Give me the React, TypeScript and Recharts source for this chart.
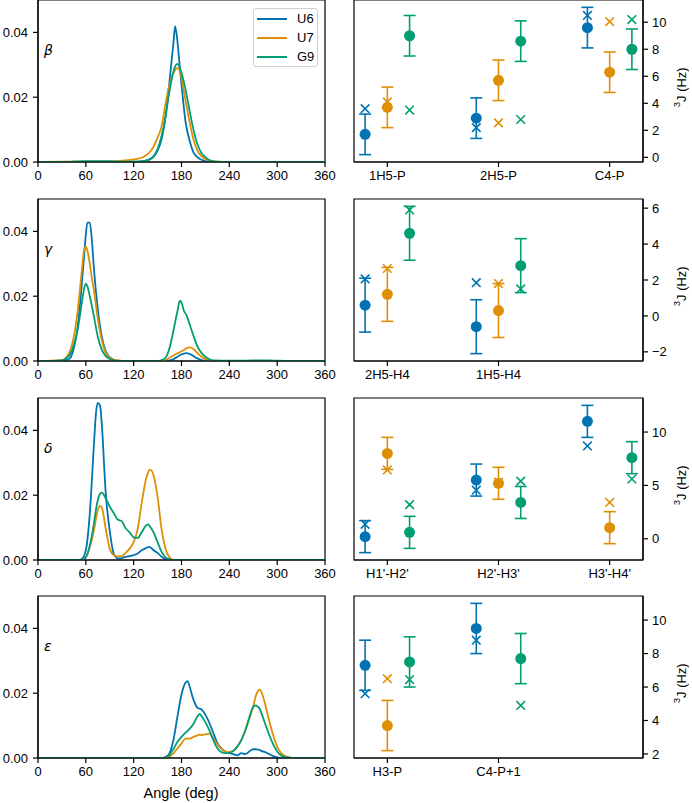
import React from 'react';
import {
  LineChart,
  Line,
  XAxis,
  YAxis,
  Legend,
  ComposedChart,
  Scatter,
  ErrorBar,
  ReferenceArea,
} from 'recharts';

// ---- torsion angle densities (left column) ----
const betaAngles = [0, 30, 60, 80, 100, 120, 130, 135, 140, 145, 150, 155, 160, 165, 170, 172, 175, 178, 180, 185, 190, 195, 200, 205, 210, 215, 220, 240, 300, 360];
const betaU6 = [0, 0, 0.0002, 0.0002, 0.0001, 0.0001, 0.0002, 0.0004, 0.0008, 0.0016, 0.0035, 0.007, 0.014, 0.025, 0.037, 0.0419, 0.037, 0.029, 0.024, 0.0125, 0.0068, 0.003, 0.0015, 0.0007, 0.0003, 0.0001, 0, 0, 0, 0];
const betaU7 = [0, 0.0001, 0.0001, 0.0001, 0.0003, 0.0008, 0.0013, 0.002, 0.003, 0.0048, 0.0075, 0.011, 0.018, 0.024, 0.0275, 0.0285, 0.029, 0.028, 0.026, 0.019, 0.0125, 0.007, 0.0035, 0.0018, 0.0009, 0.0004, 0.0002, 0, 0, 0];
const betaG9 = [0, 0, 0.0002, 0.0002, 0.0001, 0.0001, 0.0002, 0.0004, 0.0008, 0.0018, 0.004, 0.008, 0.014, 0.022, 0.028, 0.0295, 0.0303, 0.029, 0.0275, 0.0225, 0.016, 0.01, 0.0055, 0.0028, 0.0015, 0.0006, 0.0002, 0, 0, 0];

const gammaAngles = [0, 30, 35, 40, 45, 50, 55, 58, 60, 62, 65, 68, 70, 75, 80, 85, 90, 95, 100, 110, 150, 155, 160, 165, 170, 175, 178, 180, 183, 186, 190, 195, 200, 205, 210, 215, 220, 240, 260, 280, 290, 300, 320, 360];
const gammaU6 = [0, 0, 0.0002, 0.0008, 0.004, 0.011, 0.024, 0.033, 0.039, 0.0427, 0.0427, 0.036, 0.029, 0.016, 0.0075, 0.003, 0.0012, 0.0004, 0.0001, 0, 0, 0, 0, 0.0002, 0.0006, 0.0013, 0.0018, 0.002, 0.0023, 0.0024, 0.0022, 0.0015, 0.0008, 0.0003, 0.0001, 0, 0, 0, 0, 0, 0, 0, 0, 0];
const gammaU7 = [0, 0.0003, 0.001, 0.003, 0.0075, 0.016, 0.028, 0.0345, 0.0353, 0.034, 0.03, 0.025, 0.022, 0.013, 0.0065, 0.0025, 0.001, 0.0004, 0.0002, 0, 0, 0, 0.0003, 0.001, 0.0017, 0.0024, 0.0027, 0.003, 0.0034, 0.0039, 0.0042, 0.0037, 0.0025, 0.0013, 0.0006, 0.0002, 0, 0, 0, 0, 0, 0, 0, 0];
const gammaG9 = [0, 0.0002, 0.0008, 0.002, 0.005, 0.01, 0.018, 0.0225, 0.0239, 0.023, 0.02, 0.0165, 0.014, 0.0075, 0.0035, 0.0015, 0.0006, 0.0002, 0, 0, 0, 0.0003, 0.001, 0.004, 0.0095, 0.0155, 0.0186, 0.018, 0.0155, 0.0143, 0.0115, 0.0078, 0.0045, 0.0025, 0.0013, 0.0005, 0.0002, 0.0001, 0.0001, 0.0002, 0.0002, 0.0001, 0, 0];

const deltaAngles = [0, 50, 55, 60, 65, 70, 73, 75, 78, 80, 85, 90, 95, 100, 105, 110, 115, 120, 125, 130, 135, 138, 140, 142, 145, 150, 155, 160, 165, 170, 180, 240, 300, 360];
const deltaU6 = [0, 0, 0.0003, 0.003, 0.0144, 0.035, 0.046, 0.0485, 0.0475, 0.042, 0.0205, 0.009, 0.002, 0.0005, 0.0006, 0.001, 0.0012, 0.0015, 0.002, 0.003, 0.0036, 0.004, 0.004, 0.0037, 0.003, 0.0022, 0.001, 0.0003, 0, 0, 0, 0, 0, 0];
const deltaU7 = [0, 0, 0, 0.0008, 0.004, 0.009, 0.013, 0.0155, 0.0167, 0.0163, 0.0095, 0.0035, 0.0015, 0.0011, 0.0012, 0.0022, 0.0035, 0.0055, 0.0095, 0.0175, 0.0245, 0.027, 0.0278, 0.0277, 0.026, 0.0195, 0.0095, 0.0035, 0.0008, 0, 0, 0, 0, 0];
const deltaG9 = [0, 0, 0, 0.0008, 0.0045, 0.011, 0.016, 0.0185, 0.0205, 0.0208, 0.019, 0.0165, 0.0145, 0.0125, 0.012, 0.0098, 0.0085, 0.007, 0.0068, 0.0085, 0.0105, 0.011, 0.0105, 0.0098, 0.0085, 0.0055, 0.0025, 0.0008, 0.0002, 0, 0, 0, 0, 0];

const epsAngles = [0, 120, 155, 160, 165, 170, 175, 180, 185, 188, 190, 195, 200, 203, 205, 210, 215, 220, 225, 230, 235, 240, 245, 250, 255, 260, 265, 270, 273, 275, 278, 280, 285, 290, 295, 300, 305, 310, 315, 320, 330, 360];
const epsU6 = [0, 0, 0, 0.0003, 0.0015, 0.0057, 0.0129, 0.0196, 0.0232, 0.0237, 0.0222, 0.018, 0.0155, 0.0152, 0.015, 0.0134, 0.0108, 0.0077, 0.0046, 0.003, 0.002, 0.0015, 0.0012, 0.0008, 0.0015, 0.0012, 0.002, 0.0027, 0.0027, 0.0026, 0.0025, 0.0022, 0.0018, 0.0012, 0.0006, 0.0002, 0, 0, 0, 0, 0, 0];
const epsU7 = [0, 0, 0, 0.0001, 0.0005, 0.0015, 0.003, 0.0045, 0.006, 0.006, 0.006, 0.0065, 0.007, 0.0072, 0.0071, 0.0073, 0.0075, 0.006, 0.0042, 0.0028, 0.002, 0.0018, 0.0022, 0.0035, 0.0055, 0.0085, 0.012, 0.016, 0.019, 0.0203, 0.0211, 0.0205, 0.0165, 0.0115, 0.007, 0.0035, 0.0015, 0.0006, 0.0002, 0, 0, 0];
const epsG9 = [0, 0, 0, 0.0002, 0.001, 0.0028, 0.005, 0.0065, 0.0078, 0.0085, 0.009, 0.0105, 0.0128, 0.0136, 0.013, 0.011, 0.0085, 0.0055, 0.003, 0.0018, 0.0015, 0.0016, 0.0022, 0.0035, 0.0055, 0.0085, 0.0125, 0.0158, 0.0162, 0.016, 0.0152, 0.014, 0.0105, 0.0072, 0.0042, 0.002, 0.0008, 0.0003, 0.0001, 0, 0, 0];

const angleTicks = [0, 60, 120, 180, 240, 300, 360];
const densityTicks = [0, 0.02, 0.04];

// ---- 3J couplings (right column): measured mean, error, and computed value ----
const betaJCats = ['1H5-P', '2H5-P', 'C4-P'];
const betaJU6 = [1.7, 2.9, 9.6];
const betaJU7 = [3.7, 5.7, 6.3];
const betaJG9 = [9.0, 8.6, 8.0];
const betaJErr = [1.5, 1.5, 1.5];
const betaCalcU6 = [3.6, 2.2, 10.5];
const betaCalcU7 = [4.1, 2.55, 10.05];
const betaCalcG9 = [3.5, 2.8, 10.2];

const gammaJCats = ['2H5-H4', '1H5-H4'];
const gammaJU6 = [0.6, -0.6];
const gammaJU7 = [1.2, 0.3];
const gammaJG9 = [4.6, 2.8];
const gammaJErr = [1.5, 1.5];
const gammaCalcU6 = [2.06, 1.85];
const gammaCalcU7 = [2.64, 1.8];
const gammaCalcG9 = [5.9, 1.5];

const deltaJCats = ["H1'-H2'", "H2'-H3'", "H3'-H4'"];
const deltaJU6 = [0.2, 5.5, 11.0];
const deltaJU7 = [8.0, 5.2, 1.04];
const deltaJG9 = [0.6, 3.4, 7.6];
const deltaJErr = [1.5, 1.5, 1.5];
const deltaCalcU6 = [1.35, 4.55, 8.7];
const deltaCalcU7 = [6.45, 5.3, 3.4];
const deltaCalcG9 = [3.2, 5.4, 5.6];

const epsJCats = ['H3-P', 'C4-P+1'];
const epsJU6 = [7.3, 9.5];
const epsJU7 = [3.7, null];
const epsJG9 = [7.5, 7.7];
const epsJErr = [1.5, 1.5];
const epsCalcU6 = [5.6, 8.8];
const epsCalcU7 = [6.5, null];
const epsCalcG9 = [6.45, 4.9];

const SERIES = ['U6', 'U7', 'G9'];
const COLORS: Record<string, string> = { U6: '#0173B2', U7: '#DE8F05', G9: '#029E73' };
const OFFSETS = [-0.2, 0, 0.2];
const FONT = '"Liberation Sans", Arial, Helvetica, sans-serif';
const AXIS = { stroke: '#000', strokeWidth: 1.2 };
const TICK = { fontSize: 13, fill: '#000', fontFamily: FONT };

const ROW_TOPS = [0.3, 199.3, 398.3, 596];
const PLOT_H = 162;

function AnglePanel({ top, angles, u6, u7, g9, legend }: any) {
  const data = angles.map((a: number, i: number) => ({ angle: a, U6: u6[i], U7: u7[i], G9: g9[i] }));
  return (
    <div style={{ position: 'absolute', left: 0, top: top - 10 }}>
      <LineChart width={340} height={10 + PLOT_H + 33} data={data} margin={{ top: 10, right: 15, bottom: 0, left: 0 }}>
        <XAxis
          xAxisId="b"
          dataKey="angle"
          type="number"
          domain={[0, 360]}
          ticks={angleTicks}
          interval={0}
          allowDataOverflow
          tick={TICK}
          tickSize={5}
          tickMargin={4}
          axisLine={AXIS}
          tickLine={AXIS}
          height={33}
        />
        <YAxis
          yAxisId="l"
          type="number"
          domain={[0, 0.05]}
          ticks={densityTicks}
          interval={0}
          allowDataOverflow
          tickFormatter={(v: number) => v.toFixed(2)}
          tick={TICK}
          tickSize={5}
          tickMargin={5}
          axisLine={AXIS}
          tickLine={AXIS}
          width={38}
        />
        {SERIES.map((s) => (
          <Line
            key={s}
            xAxisId="b"
            yAxisId="l"
            type="monotone"
            dataKey={s}
            name={s}
            stroke={COLORS[s]}
            strokeWidth={1.8}
            dot={false}
            isAnimationActive={false}
          />
        ))}
        <ReferenceArea xAxisId="b" yAxisId="l" x1={0} x2={360} y1={0} y2={0.05} fill="none" stroke="#000" strokeWidth={1.2} ifOverflow="visible" />
        {legend && (
          <Legend
            layout="vertical"
            align="center"
            verticalAlign="middle"
            wrapperStyle={{ left: 253, top: 18, width: 65 }}
            content={() => (
              <div
                style={{
                  border: '1px solid #d0d0d0',
                  borderRadius: 3,
                  background: '#fff',
                  width: 65,
                  height: 59,
                  boxSizing: 'border-box',
                  paddingLeft: 3,
                  fontFamily: FONT,
                  fontSize: 13,
                }}
              >
                {SERIES.map((s) => (
                  <div key={s} style={{ display: 'flex', alignItems: 'center', height: 19 }}>
                    <div style={{ width: 30, height: 2, flex: '0 0 30px', background: COLORS[s], marginRight: 10 }} />
                    <span>{s}</span>
                  </div>
                ))}
              </div>
            )}
          />
        )}
      </LineChart>
    </div>
  );
}

function CirclePt(props: any) {
  return <circle cx={props.cx} cy={props.cy} r={5.5} fill={props.color} />;
}

function CrossPt(props: any) {
  const { cx, cy, color } = props;
  const h = 4.3;
  return (
    <path
      d={`M${cx - h},${cy - h}L${cx + h},${cy + h}M${cx - h},${cy + h}L${cx + h},${cy - h}`}
      stroke={color}
      strokeWidth={1.6}
      fill="none"
    />
  );
}

function fmtJ(v: number) {
  return v < 0 ? '\u2212' + Math.abs(v) : String(v);
}

function JPanel({ top, cats, means, err, calcs, yDomain, yTicks }: any) {
  const catTicks = cats.map((_: string, i: number) => i);
  return (
    <div style={{ position: 'absolute', left: 340, top: top - 10 }}>
      <ComposedChart width={352} height={10 + PLOT_H + 33} margin={{ top: 10, right: 14, bottom: 0, left: 14 }}>
        <XAxis
          xAxisId="b"
          dataKey="x"
          type="number"
          domain={[-0.3, 2.3]}
          ticks={catTicks}
          interval={0}
          allowDataOverflow
          tickFormatter={(v: number) => cats[v] ?? ''}
          tick={TICK}
          tickSize={5}
          tickMargin={4}
          axisLine={AXIS}
          tickLine={AXIS}
          height={33}
        />
        <YAxis
          yAxisId="r"
          dataKey="y"
          type="number"
          orientation="right"
          domain={yDomain}
          ticks={yTicks}
          interval={0}
          allowDataOverflow
          tickFormatter={fmtJ}
          tick={TICK}
          tickSize={5}
          tickMargin={4}
          axisLine={AXIS}
          tickLine={AXIS}
          width={35}
        />
        {SERIES.map((s, k) => {
          const data = cats
            .map((_: string, i: number) => ({ x: i + OFFSETS[k], y: means[k][i], err: err[i] }))
            .filter((d: any) => d.y !== null);
          return (
            <Scatter
              key={'m' + s}
              name={s}
              xAxisId="b"
              yAxisId="r"
              data={data}
              shape={<CirclePt color={COLORS[s]} />}
              isAnimationActive={false}
            >
              <ErrorBar dataKey="err" direction="y" width={6} stroke={COLORS[s]} strokeWidth={1.6} isAnimationActive={false} />
            </Scatter>
          );
        })}
        {SERIES.map((s, k) => {
          const data = cats
            .map((_: string, i: number) => ({ x: i + OFFSETS[k], y: calcs[k][i] }))
            .filter((d: any) => d.y !== null);
          return (
            <Scatter
              key={'c' + s}
              name={s + ' calc'}
              xAxisId="b"
              yAxisId="r"
              data={data}
              shape={<CrossPt color={COLORS[s]} />}
              isAnimationActive={false}
            />
          );
        })}
        <ReferenceArea xAxisId="b" yAxisId="r" x1={-0.3} x2={2.3} y1={yDomain[0]} y2={yDomain[1]} fill="none" stroke="#000" strokeWidth={1.2} ifOverflow="visible" />
      </ComposedChart>
    </div>
  );
}

const labelBase: React.CSSProperties = { position: 'absolute', whiteSpace: 'nowrap' };

export default function App() {
  const symbols = ['\u03B2', '\u03B3', '\u03B4', '\u03B5'];
  return (
    <div style={{ position: 'absolute', left: 0, top: 0, width: 692, height: 803, background: '#fff', overflow: 'hidden', fontFamily: FONT }}>
      <AnglePanel top={ROW_TOPS[0]} angles={betaAngles} u6={betaU6} u7={betaU7} g9={betaG9} legend />
      <AnglePanel top={ROW_TOPS[1]} angles={gammaAngles} u6={gammaU6} u7={gammaU7} g9={gammaG9} />
      <AnglePanel top={ROW_TOPS[2]} angles={deltaAngles} u6={deltaU6} u7={deltaU7} g9={deltaG9} />
      <AnglePanel top={ROW_TOPS[3]} angles={epsAngles} u6={epsU6} u7={epsU7} g9={epsG9} />

      <JPanel top={ROW_TOPS[0]} cats={betaJCats} means={[betaJU6, betaJU7, betaJG9]} err={betaJErr} calcs={[betaCalcU6, betaCalcU7, betaCalcG9]} yDomain={[-0.345, 11.645]} yTicks={[0, 2, 4, 6, 8, 10]} />
      <JPanel top={ROW_TOPS[1]} cats={gammaJCats} means={[gammaJU6, gammaJU7, gammaJG9]} err={gammaJErr} calcs={[gammaCalcU6, gammaCalcU7, gammaCalcG9]} yDomain={[-2.51, 6.51]} yTicks={[-2, 0, 2, 4, 6]} />
      <JPanel top={ROW_TOPS[2]} cats={deltaJCats} means={[deltaJU6, deltaJU7, deltaJG9]} err={deltaJErr} calcs={[deltaCalcU6, deltaCalcU7, deltaCalcG9]} yDomain={[-1.99, 13.19]} yTicks={[0, 5, 10]} />
      <JPanel top={ROW_TOPS[3]} cats={epsJCats} means={[epsJU6, epsJU7, epsJG9]} err={epsJErr} calcs={[epsCalcU6, epsCalcU7, epsCalcG9]} yDomain={[1.76, 11.44]} yTicks={[2, 4, 6, 8, 10]} />

      {symbols.map((g, i) => (
        <div
          key={g}
          style={{ ...labelBase, left: 44, top: ROW_TOPS[i] + 43, fontFamily: '"DejaVu Sans", sans-serif', fontStyle: 'italic', fontSize: 14, lineHeight: '14px' }}
        >
          {g}
        </div>
      ))}

      {ROW_TOPS.map((t, i) => (
        <div
          key={'j' + i}
          style={{
            ...labelBase,
            left: 671,
            top: t + PLOT_H / 2 + 6 - 25,
            height: 50,
            width: 22,
            lineHeight: '22px',
            textAlign: 'center',
            fontSize: 13,
            writingMode: 'vertical-rl',
            transform: 'rotate(180deg)',
          }}
        >
          <span style={{ fontSize: 9, verticalAlign: 'super', lineHeight: '9px' }}>3</span>J (Hz)
        </div>
      ))}

      <div style={{ ...labelBase, left: 181 - 50, top: 785, width: 100, textAlign: 'center', fontSize: 14.5, lineHeight: '17px' }}>
        Angle (deg)
      </div>
    </div>
  );
}
